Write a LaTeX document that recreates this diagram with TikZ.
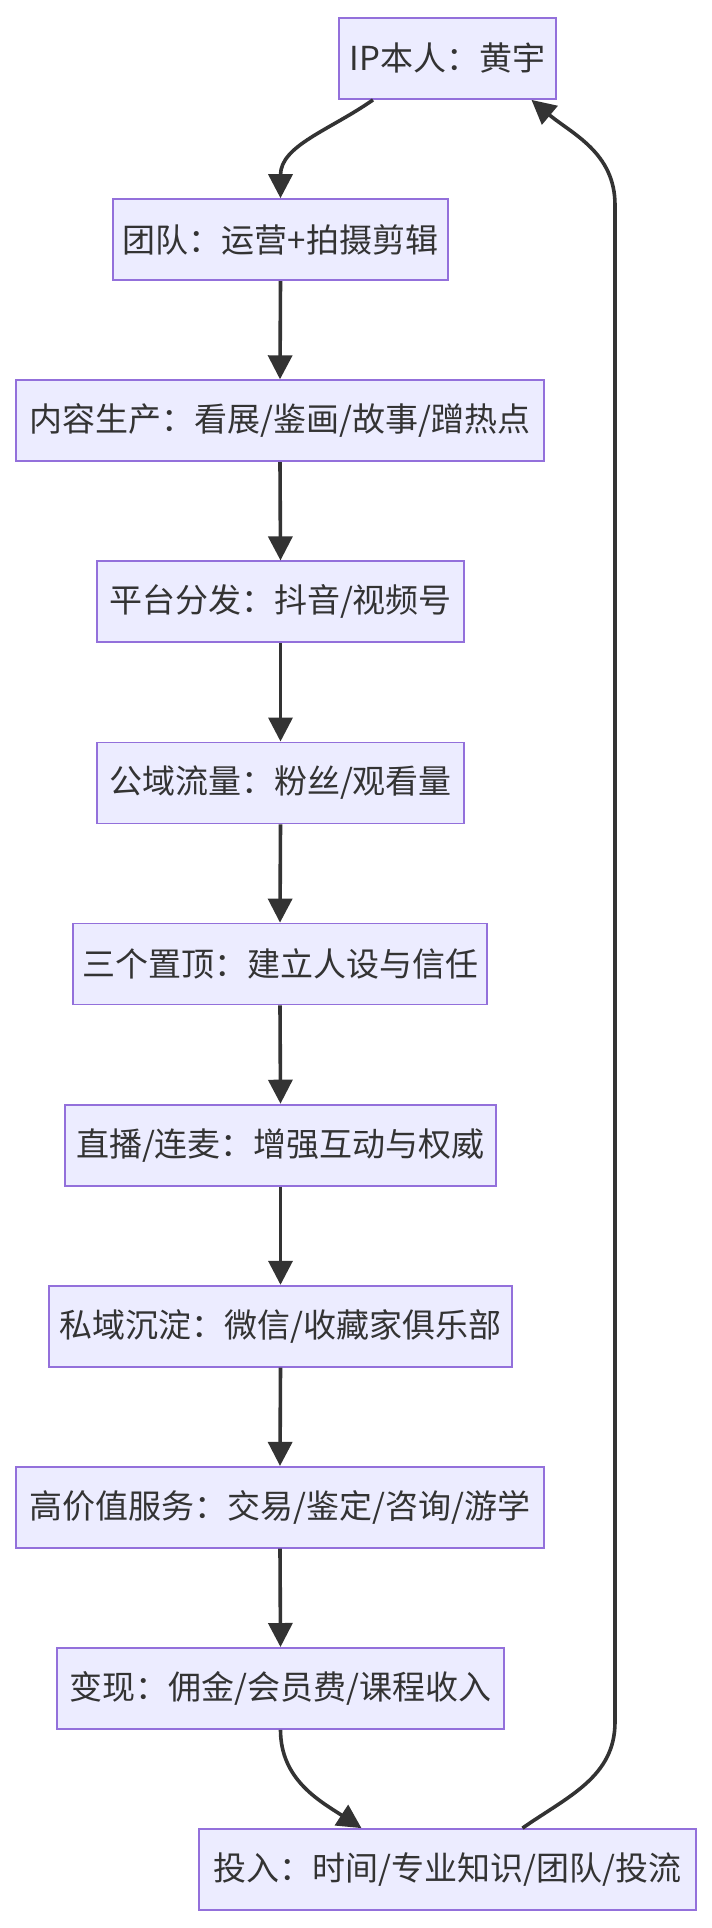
\documentclass[tikz,border=0pt]{standalone}
\usepackage{fontspec}
\setmainfont{Noto Sans CJK SC}
\usetikzlibrary{arrows.meta}
\definecolor{nodefill}{HTML}{ECECFF}
\definecolor{nodeborder}{HTML}{9370DB}
\definecolor{edgecol}{HTML}{333333}
\definecolor{textcol}{HTML}{333333}
\begin{document}
\begin{tikzpicture}[x=1pt,y=-1pt,
  box/.style={draw=nodeborder, fill=nodefill, line width=1.8pt, minimum height=81pt, inner sep=0pt, font=\fontsize{33}{39}\selectfont, text=textcol},
  flow/.style={draw=edgecol, line width=3.6pt, -{Triangle[length=24pt,width=24pt]}}]
\useasboundingbox (0,0) rectangle (712,1928);
\node[box, minimum width=217pt] (n1) at (447.5,58.5) {IP本人：黄宇};
\node[box, minimum width=335pt] (n2) at (280.5,239.6) {团队：运营+拍摄剪辑};
\node[box, minimum width=528pt] (n3) at (280,420.7) {内容生产：看展/鉴画/故事/蹭热点};
\node[box, minimum width=367pt] (n4) at (280.5,601.8) {平台分发：抖音/视频号};
\node[box, minimum width=367pt] (n5) at (280.5,782.9) {公域流量：粉丝/观看量};
\node[box, minimum width=414pt] (n6) at (280,964) {三个置顶：建立人设与信任};
\node[box, minimum width=431pt] (n7) at (280.5,1145.1) {直播/连麦：增强互动与权威};
\node[box, minimum width=463pt] (n8) at (280.5,1326.2) {私域沉淀：微信/收藏家俱乐部};
\node[box, minimum width=528pt] (n9) at (280,1507.3) {高价值服务：交易/鉴定/咨询/游学};
\node[box, minimum width=447pt] (n10) at (280.5,1688.4) {变现：佣金/会员费/课程收入};
\node[box, minimum width=497pt] (n11) at (447.5,1869.5) {投入：时间/专业知识/团队/投流};
\coordinate (r1) at (615,1722);
\coordinate (r2) at (615,205);
\draw[flow] ([xshift=-74.5pt]n1.south) to[out=-145,in=90] (n2.north);
\draw[flow] (n2.south) -- (n3.north);
\draw[flow] (n3.south) -- (n4.north);
\draw[flow] (n4.south) -- (n5.north);
\draw[flow] (n5.south) -- (n6.north);
\draw[flow] (n6.south) -- (n7.north);
\draw[flow] (n7.south) -- (n8.north);
\draw[flow] (n8.south) -- (n9.north);
\draw[flow] (n9.south) -- (n10.north);
\draw[flow] (n10.south) to[out=-90,in=147] ([xshift=-86pt]n11.north);
\draw[flow] ([xshift=75pt]n11.north) to[out=35,in=-90] (r1) -- (r2) to[out=90,in=-40] ([xshift=84pt]n1.south);
\end{tikzpicture}
\end{document}
